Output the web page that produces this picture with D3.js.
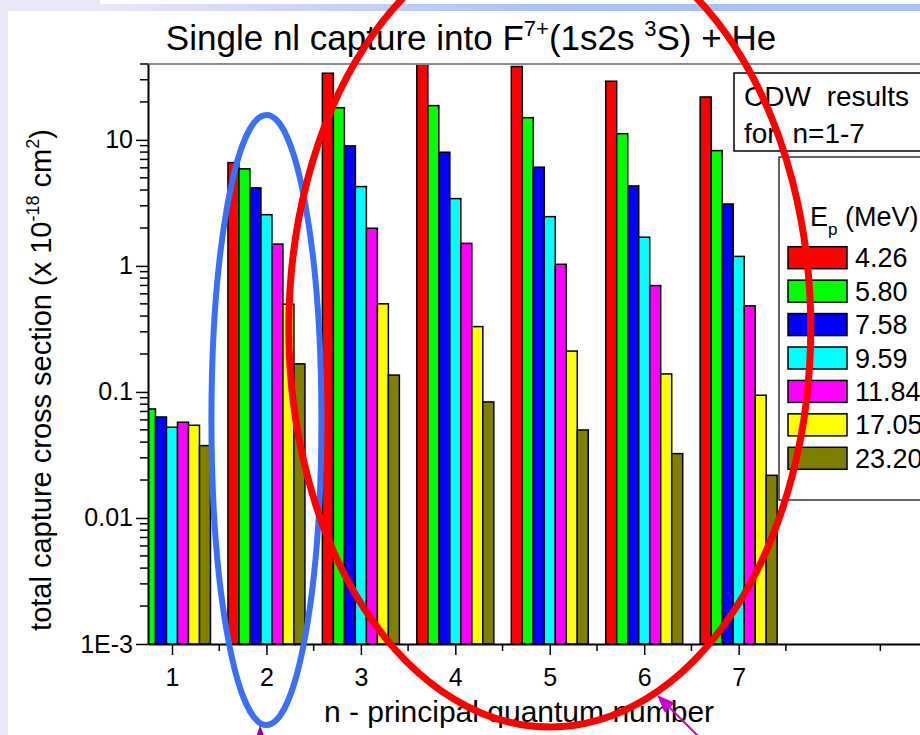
<!DOCTYPE html>
<html>
<head>
<meta charset="utf-8">
<script src="https://cdn.jsdelivr.net/npm/d3@7/dist/d3.min.js"></script>
<style>
  html, body { margin: 0; padding: 0; background: #fff; }
  svg { display: block; font-family: "Liberation Sans", Arial, sans-serif; }
</style>
</head>
<body>
<svg id="chart" width="920" height="735"></svg>
<script>
// Principal quantum numbers (x categories)
const levels = [1, 2, 3, 4, 5, 6, 7];
// Projectile energies E_p (MeV), one bar series each
const energies = ["4.26", "5.80", "7.58", "9.59", "11.84", "17.05", "23.20"];
const seriesColors = ["#ff0000", "#00ff00", "#0000ff", "#00ffff", "#ff00ff", "#ffff00", "#808000"];

// Total capture cross sections (x 10^-18 cm^2) for n = 1..7
const sigma_4_26  = [0.08,   6.6,  33.8, 42,    38.2,  29.2,  21.9];
const sigma_5_80  = [0.0733, 5.89, 18.0, 18.7,  15.0,  11.2,  8.22];
const sigma_7_58  = [0.0633, 4.16, 8.96, 7.98,  6.07,  4.31,  3.10];
const sigma_9_59  = [0.0525, 2.55, 4.26, 3.42,  2.46,  1.69,  1.19];
const sigma_11_84 = [0.0575, 1.49, 1.99, 1.51,  1.03,  0.698, 0.482];
const sigma_17_05 = [0.0544, 0.497, 0.50, 0.330, 0.211, 0.139, 0.0942];
const sigma_23_20 = [0.0375, 0.167, 0.136, 0.0833, 0.0499, 0.0324, 0.0218];
const seriesValues = [sigma_4_26, sigma_5_80, sigma_7_58, sigma_9_59, sigma_11_84, sigma_17_05, sigma_23_20];

// Axis ticks
const yTickValues = [0.001, 0.01, 0.1, 1, 10];
const yTickLabels = ["1E-3", "0.01", "0.1", "1", "10"];
const xMinorTicks = [1.5, 2.5, 3.5, 4.5, 5.5, 6.5, 7.5, 8.5];

const svg = d3.select("#chart");
const W = 920, H = 735;
const plotLeft = 148, plotTop = 64, plotBottom = 644, plotRight = 920;

// Slide background: lavender side strip and header band
const defs = svg.append("defs");
const grad = defs.append("linearGradient").attr("id", "band")
  .attr("x1", 0).attr("x2", 1).attr("y1", 0).attr("y2", 0);
grad.append("stop").attr("offset", 0).attr("stop-color", "#ebe5f8");
grad.append("stop").attr("offset", 0.55).attr("stop-color", "#a9c1f6");
grad.append("stop").attr("offset", 1).attr("stop-color", "#a9c1f6");
svg.append("rect").attr("x", 0).attr("y", 0).attr("width", W).attr("height", H).attr("fill", "#fff");
svg.append("rect").attr("x", 0).attr("y", 0).attr("width", 8).attr("height", H).attr("fill", "#ebe5f8");
svg.append("rect").attr("x", 0).attr("y", 0).attr("width", 100).attr("height", 11).attr("fill", "#ebe5f8");
svg.append("rect").attr("x", 100).attr("y", 4).attr("width", W - 100).attr("height", 7).attr("fill", "url(#band)");

// Scales
const x = d3.scaleLinear().domain([0.746, 8.92]).range([plotLeft, plotRight]);
const y = d3.scaleLog().domain([1e-3, 40]).range([plotBottom, plotTop]);
const offset = d3.scaleBand().domain(energies).range([-38.5, 38.5]).padding(0);

defs.append("clipPath").attr("id", "plotClip")
  .append("rect").attr("x", plotLeft).attr("y", plotTop)
  .attr("width", plotRight - plotLeft).attr("height", plotBottom - plotTop);

// Bars
const bars = svg.append("g").attr("clip-path", "url(#plotClip)");
energies.forEach((e, si) => {
  bars.append("g")
    .selectAll("rect")
    .data(levels.map((n, i) => ({ n, v: seriesValues[si][i] })))
    .join("rect")
    .attr("x", d => x(d.n) + offset(e))
    .attr("y", d => y(d.v))
    .attr("width", offset.bandwidth())
    .attr("height", d => plotBottom - y(d.v))
    .attr("fill", seriesColors[si])
    .attr("stroke", "#000")
    .attr("stroke-width", 1.5);
});

// Top frame line
svg.append("line").attr("x1", plotLeft).attr("x2", plotRight)
  .attr("y1", plotTop).attr("y2", plotTop)
  .attr("stroke", "#8c8c8c").attr("stroke-width", 2);

// Y axis
const yAxis = d3.axisLeft(y).tickValues(yTickValues)
  .tickFormat((d, i) => yTickLabels[i]).tickSize(12).tickSizeOuter(0).tickPadding(3);
const gy = svg.append("g").attr("transform", `translate(${plotLeft},0)`).call(yAxis);
gy.select(".domain").attr("stroke-width", 2);
gy.selectAll(".tick line").attr("stroke-width", 1.5);
gy.selectAll(".tick text").attr("font-size", 25).attr("font-family", "Liberation Sans, Arial, sans-serif").attr("fill", "#000");
const yMinor = [];
for (let k = -3; k <= 1; k++) for (let m = 2; m <= 9; m++) {
  const v = m * Math.pow(10, k);
  if (v <= 40.01) yMinor.push(v);
}
svg.append("g").selectAll("line").data(yMinor).join("line")
  .attr("x1", plotLeft - 8).attr("x2", plotLeft)
  .attr("y1", d => y(d)).attr("y2", d => y(d))
  .attr("stroke", "#000").attr("stroke-width", 1.5);

// X axis
const xAxis = d3.axisBottom(x).tickValues(levels).tickFormat(d3.format("d"))
  .tickSize(11).tickSizeOuter(0).tickPadding(13);
const gx = svg.append("g").attr("transform", `translate(0,${plotBottom})`).call(xAxis);
gx.select(".domain").attr("stroke-width", 2);
gx.selectAll(".tick line").attr("stroke-width", 1.5);
gx.selectAll(".tick text").attr("font-size", 25).attr("font-family", "Liberation Sans, Arial, sans-serif").attr("fill", "#000");
svg.append("g").selectAll("line").data(xMinorTicks).join("line")
  .attr("x1", d => x(d)).attr("x2", d => x(d))
  .attr("y1", plotBottom).attr("y2", plotBottom + 7)
  .attr("stroke", "#000").attr("stroke-width", 1.5);

// Axis titles
svg.append("text").attr("x", 519).attr("y", 722).attr("text-anchor", "middle")
  .attr("font-size", 30).text("n - principal quantum number");

const yt = svg.append("text").attr("transform", "translate(51,380) rotate(-90)")
  .attr("text-anchor", "middle").attr("font-size", 29);
yt.append("tspan").text("total capture cross section (x 10");
yt.append("tspan").attr("dy", -12).attr("font-size", 18).text("-18");
yt.append("tspan").attr("dy", 12).text(" cm");
yt.append("tspan").attr("dy", -12).attr("font-size", 18).text("2");
yt.append("tspan").attr("dy", 12).text(")");

// Chart title
const tt = svg.append("text").attr("x", 471).attr("y", 50).attr("text-anchor", "middle").attr("font-size", 35);
tt.append("tspan").text("Single nl capture into F");
tt.append("tspan").attr("dy", -14).attr("font-size", 22).text("7+");
tt.append("tspan").attr("dy", 14).text("(1s2s ");
tt.append("tspan").attr("dy", -14).attr("font-size", 22).text("3");
tt.append("tspan").attr("dy", 14).text("S) + He");

// Note box
svg.append("rect").attr("x", 734).attr("y", 73).attr("width", 200).attr("height", 78)
  .attr("fill", "#fff").attr("stroke", "#000").attr("stroke-width", 1.5);
svg.append("text").attr("x", 744).attr("y", 106).attr("font-size", 28).attr("word-spacing", 8).text("CDW results");
svg.append("text").attr("x", 744).attr("y", 143).attr("font-size", 28).attr("word-spacing", 8).text("for n=1-7");

// Legend
const lg = svg.append("g");
lg.append("rect").attr("x", 779).attr("y", 157).attr("width", 200).attr("height", 343)
  .attr("fill", "#fff").attr("stroke", "#000").attr("stroke-width", 1.2);
const lt = lg.append("text").attr("x", 810).attr("y", 226).attr("font-size", 27);
lt.append("tspan").text("E");
lt.append("tspan").attr("dy", 9).attr("font-size", 17).text("p");
lt.append("tspan").attr("dy", -9).text(" (MeV)");
const legendY = d3.scaleBand().domain(energies).range([241, 475]);
energies.forEach((e, i) => {
  const yy = legendY(e) + legendY.bandwidth() / 2;
  lg.append("rect").attr("x", 788).attr("y", yy - 11).attr("width", 59).attr("height", 22)
    .attr("fill", seriesColors[i]).attr("stroke", "#000").attr("stroke-width", 1.5);
  lg.append("text").attr("x", 855).attr("y", yy + 9.5).attr("font-size", 27).text(e);
});

// Highlight ellipses around n = 2 and n = 3..7
svg.append("ellipse").attr("cx", x(2)).attr("cy", 420).attr("rx", 55).attr("ry", 305)
  .attr("fill", "none").attr("stroke", "#3a6ff6").attr("stroke-width", 6);
svg.append("ellipse").attr("cx", x(5)).attr("cy", 328).attr("rx", 261).attr("ry", 399)
  .attr("fill", "none").attr("stroke", "#ff0000").attr("stroke-width", 7);

// Pointer arrows
function arrow(x1, y1, x2, y2, color, width, headLen, headW) {
  const ang = Math.atan2(y2 - y1, x2 - x1);
  const bx = x2 - headLen * Math.cos(ang), by = y2 - headLen * Math.sin(ang);
  svg.append("line").attr("x1", x1).attr("y1", y1).attr("x2", bx).attr("y2", by)
    .attr("stroke", color).attr("stroke-width", width);
  const px = -Math.sin(ang) * headW / 2, py = Math.cos(ang) * headW / 2;
  svg.append("path").attr("d", `M${x2},${y2}L${bx + px},${by + py}L${bx - px},${by - py}Z`).attr("fill", color);
}
arrow(262, 790, 260, 725, "#990099", 3, 20, 14);
arrow(717, 755, 657, 695, "#cc00cc", 2, 18, 14);
</script>
</body>
</html>
